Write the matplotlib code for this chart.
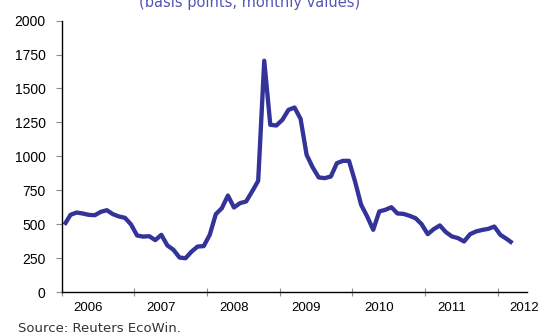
import numpy as np
import matplotlib
matplotlib.use('Agg')
import matplotlib.pyplot as plt
import matplotlib.ticker as ticker

# ── Data ─────────────────────────────────────────────────────────────────────
# monthly values, Jan 2006 .. Mar 2012 (basis points)
SPREAD_BP = [
    498, 571, 588, 581, 571, 568, 593, 605, 576, 559, 549, 500,   # 2006
    419, 411, 414, 385, 424, 346, 314, 257, 252, 301, 338, 341,   # 2007
    424, 576, 620, 713, 625, 657, 669, 743, 821, 1704, 1233, 1228,  # 2008
    1270, 1343, 1360, 1277, 1012, 920, 846, 841, 853, 951, 968, 968,  # 2009
    816, 645, 559, 461, 596, 608, 627, 581, 578, 564, 546, 502,   # 2010
    429, 466, 493, 444, 412, 400, 375, 429, 449, 460, 468, 485,   # 2011
    424, 395, 363,                                                # 2012
]
YEAR_LABELS = ['2006', '2007', '2008', '2009', '2010', '2011', '2012']
Y_TICKS = [0, 250, 500, 750, 1000, 1250, 1500, 1750, 2000]

TITLE = '(basis points, monthly values)'
SOURCE = 'Source: Reuters EcoWin.'

# ── Style ────────────────────────────────────────────────────────────────────
LINE_COLOR = '#333399'
TITLE_COLOR = '#5555b5'
TICK_GREY = '#8c8c8c'

plt.rcParams.update({
    'font.family': ['Liberation Sans', 'DejaVu Sans'],
    'axes.spines.top': False,
    'axes.spines.right': False,
})


def main():
    fig = plt.figure(figsize=(5.4, 3.35), dpi=100)
    ax = fig.add_axes([0.1143, 0.1269, 0.8622, 0.8119])

    # months since Jan 2006, points sit a bit into each month
    months = np.arange(len(SPREAD_BP)) + 0.45
    ax.plot(months, SPREAD_BP, color=LINE_COLOR, linewidth=3.1,
            solid_joinstyle='round', solid_capstyle='butt')

    ax.set_xlim(0, 76.9)
    ax.set_ylim(0, 2000)

    # year boundaries as major ticks, labels sit on invisible minor ticks
    year_starts = np.arange(len(YEAR_LABELS)) * 12
    ax.xaxis.set_major_locator(ticker.FixedLocator(year_starts))
    ax.xaxis.set_major_formatter(ticker.NullFormatter())
    ax.xaxis.set_minor_locator(ticker.FixedLocator(year_starts + 4.4))
    ax.xaxis.set_minor_formatter(ticker.FixedFormatter(YEAR_LABELS))
    ax.tick_params(axis='x', which='major', direction='inout', length=6,
                   width=0.8, color=TICK_GREY)
    ax.tick_params(axis='x', which='minor', length=0, pad=7,
                   labelsize=9.5)

    ax.yaxis.set_major_locator(ticker.FixedLocator(Y_TICKS))
    ax.tick_params(axis='y', direction='out', length=4.5, width=0.8,
                   color=TICK_GREY, pad=7, labelsize=10)

    for side in ('left', 'bottom'):
        ax.spines[side].set_color('black')
        ax.spines[side].set_linewidth(1.0)

    fig.text(0.463, 1 - 7.5 / 335, TITLE, color=TITLE_COLOR,
             ha='center', va='baseline', fontsize=10.5,
             family=['DejaVu Sans'])
    fig.text(18 / 540, 1 - 322 / 335, SOURCE, color='#333333',
             ha='left', va='top', fontsize=9.5, family=['DejaVu Sans'])

    fig.savefig('out.png', dpi=100)
    plt.close(fig)


if __name__ == '__main__':
    main()
